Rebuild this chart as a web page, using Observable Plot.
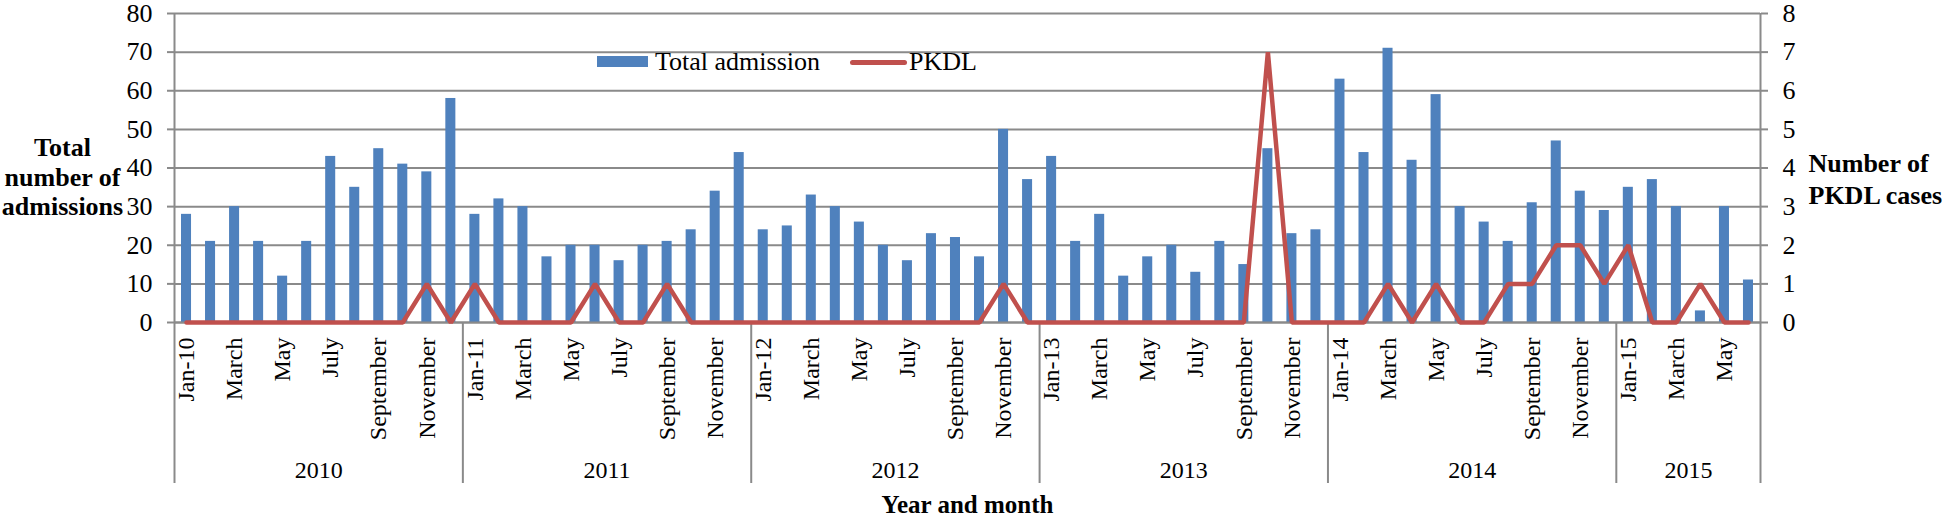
<!DOCTYPE html>
<html>
<head>
<meta charset="utf-8">
<script src="https://cdn.jsdelivr.net/npm/d3@7"></script>
<script src="https://cdn.jsdelivr.net/npm/@observablehq/plot@0.6"></script>
<style>
  html, body { margin: 0; padding: 0; background: #fff; }
  #wrap { position: relative; width: 1946px; height: 515px; font-family: "Liberation Serif", "Times New Roman", serif; color: #000; }
  .lg { position: absolute; }
  .lgtext { position: absolute; font-size: 26px; line-height: 26px; white-space: nowrap; }
</style>
</head>
<body>
<div id="wrap">
  <div id="chart"></div>
  <div class="lg" style="left:597px;top:56px;width:51px;height:11px;background:#4F81BD"></div>
  <div class="lgtext" style="left:655px;top:49px;">Total admission</div>
  <div class="lg" style="left:850px;top:60px;width:57px;height:5px;background:#C0504D;border-radius:3px"></div>
  <div class="lgtext" style="left:909px;top:49px;">PKDL</div>
</div>
<script>
const years = [2010, 2011, 2012, 2013, 2014, 2015];
const monthNames = ["Jan", "February", "March", "April", "May", "June", "July", "August", "September", "October", "November", "December"];

const totalAdmission = [
  28, 21, 30, 21, 12, 21, 43, 35, 45, 41, 39, 58,
  28, 32, 30, 17, 20, 20, 16, 20, 21, 24, 34, 44,
  24, 25, 33, 30, 26, 20, 16, 23, 22, 17, 50, 37,
  43, 21, 28, 12, 17, 20, 13, 21, 15, 45, 23, 24,
  63, 44, 71, 42, 59, 30, 26, 21, 31, 47, 34, 29,
  35, 37, 30, 3, 30, 11
];
const pkdlCases = [
  0, 0, 0, 0, 0, 0, 0, 0, 0, 0, 1, 0,
  1, 0, 0, 0, 0, 1, 0, 0, 1, 0, 0, 0,
  0, 0, 0, 0, 0, 0, 0, 0, 0, 0, 1, 0,
  0, 0, 0, 0, 0, 0, 0, 0, 0, 7, 0, 0,
  0, 0, 1, 0, 1, 0, 0, 1, 1, 2, 2, 1,
  2, 0, 0, 1, 0, 0
];
const leftTicks = [0, 10, 20, 30, 40, 50, 60, 70, 80];
const rightTicks = [0, 1, 2, 3, 4, 5, 6, 7, 8];
const PKDL_FACTOR = 10; // right axis 0–8 shares the frame with left axis 0–80

const data = totalAdmission.map((v, i) => ({
  i, year: years[Math.floor(i / 12)], month: i % 12, total: v, pkdl: pkdlCases[i]
}));
const monthLabel = d => d.month === 0 ? `Jan-${String(d.year).slice(2)}` : monthNames[d.month];
const labeled = data.filter(d => d.month % 2 === 0);
const yearSpans = years.map((y, k) => ({year: y, start: k * 12, end: Math.min(k * 12 + 12, data.length)}));
const boundaries = [0, ...yearSpans.map(s => s.end)];

const gray = "#8a8a8a";
const font = "Liberation Serif";

const chart = Plot.plot({
  width: 1946,
  height: 515,
  marginLeft: 174,
  marginRight: 186,
  marginTop: 13,
  marginBottom: 193,
  x: {domain: [0, data.length]},
  y: {domain: [0, 80]},
  style: {fontFamily: font, color: "#000", background: "#fff", overflow: "visible"},
  marks: [
    Plot.gridY(leftTicks, {stroke: gray, strokeOpacity: 1, strokeWidth: 2}),
    Plot.axisY(leftTicks, {anchor: "left", tickSize: 7, tickPadding: 15, fontSize: 26, fontFamily: font, stroke: gray, strokeWidth: 2, fill: "#000", label: null}),
    Plot.axisY(rightTicks.map(t => t * PKDL_FACTOR), {anchor: "right", tickSize: 7, tickPadding: 15, fontSize: 26, fontFamily: font, stroke: gray, strokeWidth: 2, fill: "#000", label: null, tickFormat: d => d / PKDL_FACTOR}),
    Plot.axisX(boundaries, {anchor: "bottom", tickSize: 161, tickFormat: () => "", stroke: gray, strokeWidth: 2, label: null}),
    Plot.rectY(data, {x: "i", interval: 1, y: "total", fill: "#4F81BD", insetLeft: 7, insetRight: 7}),
    Plot.ruleX([0, data.length], {stroke: gray, strokeWidth: 2}),
    Plot.ruleY([0], {stroke: gray, strokeWidth: 2}),
    Plot.line(data, {x: d => d.i + 0.5, y: d => d.pkdl * PKDL_FACTOR, stroke: "#C0504D", strokeWidth: 4.5, strokeLinejoin: "miter"}),
    Plot.text(labeled, {x: d => d.i + 0.5, y: 0, text: monthLabel, rotate: -90, textAnchor: "end", lineAnchor: "middle", dy: 15, fontSize: 24, fontFamily: font, fill: "#000"}),
    Plot.text(yearSpans, {x: d => (d.start + d.end) / 2, y: 0, text: d => String(d.year), dy: 148, fontSize: 24, fontFamily: font, lineAnchor: "middle", fill: "#000"}),
    Plot.text(["Total\nnumber of\nadmissions"], {text: d => d, frameAnchor: "left", textAnchor: "middle", lineAnchor: "middle", dx: -112, dy: 8, fontSize: 26, fontFamily: font, fontWeight: "bold", lineHeight: 1.15, fill: "#000"}),
    Plot.text(["Number of\nPKDL cases"], {text: d => d, frameAnchor: "right", textAnchor: "start", lineAnchor: "middle", dx: 48, dy: 10, fontSize: 26, fontFamily: font, fontWeight: "bold", lineHeight: 1.2, fill: "#000"}),
    Plot.text(["Year and month"], {text: d => d, frameAnchor: "bottom", textAnchor: "middle", lineAnchor: "middle", dy: 182, fontSize: 25, fontFamily: font, fontWeight: "bold", fill: "#000"})
  ]
});
document.getElementById("chart").appendChild(chart);
</script>
</body>
</html>
